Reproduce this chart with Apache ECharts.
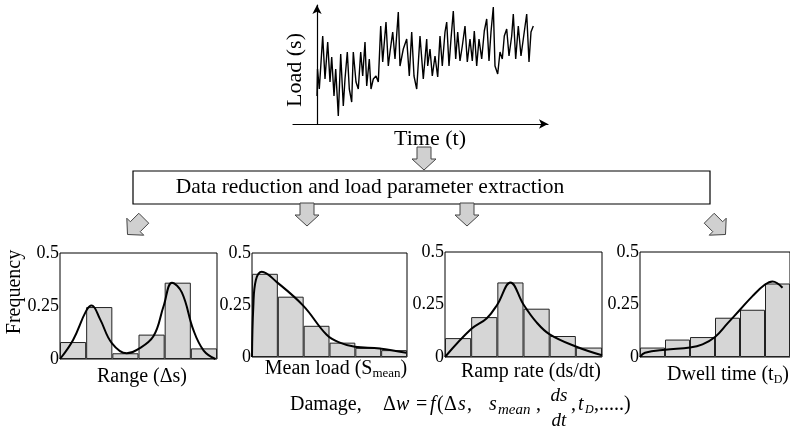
<!DOCTYPE html>
<html>
<head>
<meta charset="utf-8">
<script src="https://cdn.jsdelivr.net/npm/echarts@6/dist/echarts.min.js"></script>
<style>
html,body{margin:0;padding:0;background:#fff;}
#chart{width:790px;height:444px;}
</style>
</head>
<body>
<div id="chart"></div>
<script>
// ---- Load history (time vs load) ----
const loadTime = [0,0.5,2.3,5.7,8,10.7,13,14.7,17,18.7,21.3,23.7,26.3,28,30.3,32.3,34.7,36.3,39,41.3,43.7,45.7,48,49.7,52.3,54,56.3,59,61.3,63.7,65.7,69,71.3,73,75.7,78,81.3,83,86.3,89.7,92.3,94.7,97,99.7,103,106.3,109.7,110.7,113,115.3,118,120.7,123,125.3,128,129.7,132,134,136.3,138.7,140.7,143,145.3,148,150.3,153,155.3,157.3,159.7,162,164.7,167.3,169.7,172,174,176.3,178,180.7,183,185.3,187.3,189.7,192,194.7,196.3,198.7,201.3,204,206.3,209.7,212,214,216.3];
const loadValue = [28,55,35,88,45,82,42,67,28,55,8,70,18,45,72,35,22,72,42,35,72,48,82,38,65,35,45,48,42,98,62,102,58,72,92,65,112,58,75,85,48,92,48,35,88,45,85,58,75,48,68,47,88,58,92,102,58,85,113,65,92,63,78,98,62,85,63,93,58,85,65,93,105,63,92,117,58,50,72,65,88,95,68,88,110,65,98,68,85,110,62,92,98];

// ---- Histograms (6 bins each) ----
const binNames = ['1','2','3','4','5','6'];
const rangeBars = [0.08,0.245,0.027,0.115,0.36,0.05];
const meanBars  = [0.40,0.29,0.15,0.069,0.044,0.033];
const rampBars  = [0.09,0.19,0.355,0.23,0.10,0.045];
const dwellBars = [0.045,0.083,0.095,0.187,0.225,0.35];

// ---- Fitted density curves (bin-position x, frequency y) ----
const rangeCurveX = [0,0.5,1.0,1.21,1.53,1.98,2.55,2.94,3.57,3.96,4.28,4.66,5.1,5.49,5.94];
const rangeCurveY = [0,0.09,0.227,0.252,0.188,0.075,0.027,0.043,0.107,0.25,0.36,0.313,0.136,0.04,0];
const meanCurveX = [0,0.05,0.15,0.38,0.96,1.99,2.89,3.4,3.98,4.94,5.97];
const meanCurveY = [0,0.24,0.37,0.41,0.36,0.246,0.107,0.069,0.049,0.041,0.02];
const rampCurveX = [0,1,1.6,2,2.5,3,3.5,4,5,6];
const rampCurveY = [0,0.133,0.185,0.25,0.355,0.25,0.165,0.108,0.05,0.008];
const dwellCurveX = [0,0.2,1,2,2.5,3,3.5,4,4.5,5,5.3,5.7];
const dwellCurveY = [0,0.02,0.035,0.045,0.06,0.095,0.16,0.225,0.29,0.345,0.36,0.33];

const yTicks = [0, 0.25, 0.5];

const zip = (a,b) => a.map((v,i)=>[v,b[i]]);
const SERIF = '"Liberation Serif","DejaVu Serif",serif';

const chart = echarts.init(document.getElementById('chart'));

const subGrids = [
  {left:60,  right:573, top:253, bottom:85},
  {left:252, right:383, top:253, bottom:87},
  {left:445, right:188, top:252, bottom:87},
  {left:640, right:-6,  top:252, bottom:87}
];
const barsSet = [rangeBars, meanBars, rampBars, dwellBars];
const curves = [zip(rangeCurveX,rangeCurveY), zip(meanCurveX,meanCurveY), zip(rampCurveX,rampCurveY), zip(dwellCurveX,dwellCurveY)];

const grid = [{left:293, right:242, top:5, bottom:320}];
const xAxis = [{
  type:'value', gridIndex:0, min:-24, max:231,
  axisLine:{show:true, onZero:true, symbol:['none','arrow'], symbolSize:[7,9], lineStyle:{color:'#000', width:1.2}},
  axisTick:{show:false}, axisLabel:{show:false}, splitLine:{show:false}
}];
const yAxis = [{
  type:'value', gridIndex:0, min:0, max:119,
  axisLine:{show:true, onZero:true, symbol:['none','arrow'], symbolSize:[7,9], lineStyle:{color:'#000', width:1.2}},
  axisTick:{show:false}, axisLabel:{show:false}, splitLine:{show:false}
}];
const series = [{
  type:'line', xAxisIndex:0, yAxisIndex:0, data: zip(loadTime, loadValue),
  showSymbol:false, lineStyle:{color:'#000', width:1.4}, animation:false
}];

subGrids.forEach((g,i)=>{
  const gi = i+1;
  grid.push(Object.assign({show:true, borderColor:'#000', borderWidth:1, backgroundColor:'#fff'}, g));
  xAxis.push({type:'category', gridIndex:gi, data:binNames, boundaryGap:true,
    axisLine:{show:false}, axisTick:{show:false}, axisLabel:{show:false}, splitLine:{show:false}});
  xAxis.push({type:'value', gridIndex:gi, min:0, max:6, show:false});
  yAxis.push({type:'value', gridIndex:gi, min:0, max:0.5, interval:0.25,
    axisLine:{show:false}, axisTick:{show:false}, splitLine:{show:false},
    axisLabel:{show:true, margin:1, color:'#000', fontFamily:SERIF, fontSize:18,
      formatter: v => (yTicks.indexOf(v) >= 0 ? String(v) : '')}});
  series.push({type:'bar', xAxisIndex: 2*i+1, yAxisIndex: gi, data: barsSet[i],
    barCategoryGap:'0%', itemStyle:{color:'#d6d6d6', borderColor:'#222', borderWidth:1}, animation:false});
  series.push({type:'line', xAxisIndex: 2*i+2, yAxisIndex: gi, data: curves[i], smooth:0.4,
    showSymbol:false, lineStyle:{color:'#000', width:2}, animation:false, z:5});
});

function blockArrow(cx, cy, deg, s){
  s = s || 1;
  const pts = [[-7,-11],[7,-11],[7,1],[12,1],[0,12],[-12,1],[-7,1]];
  const t = deg*Math.PI/180, c=Math.cos(t), sn=Math.sin(t);
  return {type:'polygon', silent:true, z:10,
    shape:{points: pts.map(p=>[cx + s*(p[0]*c - p[1]*sn), cy + s*(p[0]*sn + p[1]*c)])},
    style:{fill:'#d0d0d0', stroke:'#444', lineWidth:1}};
}
function txt(x, y, text, opts, extra){
  return Object.assign({type:'text', x:x, y:y, z:20, style:Object.assign({text:text, font:'17px '+SERIF, fill:'#000', textAlign:'center', textVerticalAlign:'middle'}, opts||{})}, extra||{});
}
const F = (sz, it) => (it ? 'italic ' : '') + sz + 'px ' + SERIF;
const L = (x, y, text, font) => txt(x, y, text, {font:font, textAlign:'left'});

const graphic = [
  txt(295, 70, 'Load (s)', {font:F(22)}, {rotation:Math.PI/2}),
  txt(430, 139, 'Time (t)', {font:F(22)}),
  {type:'rect', shape:{x:133, y:171, width:577, height:33}, style:{fill:'#fff', stroke:'#000', lineWidth:1.2}, z:1},
  txt(370, 187, 'Data reduction and load parameter extraction', {font:F(21.5)}),
  blockArrow(424, 158, 0),
  blockArrow(307, 214, 0),
  blockArrow(467, 214, 0),
  blockArrow(136, 226, 45),
  blockArrow(717, 226, -45),
  txt(15, 292, 'Frequency', {font:F(20)}, {rotation:Math.PI/2}),
  txt(142, 377, 'Range (Δs)', {font:F(20)}),
  {type:'text', x:336, y:369, z:20, style:{text:'{n|Mean load (S}{s|mean}{n|)}', textAlign:'center', textVerticalAlign:'middle',
     rich:{n:{font:F(20), fill:'#000'}, s:{font:F(13), fill:'#000', padding:[9,0,0,0]}}}},
  txt(531, 372, 'Ramp rate (ds/dt)', {font:F(20)}),
  {type:'text', x:728, y:375, z:20, style:{text:'{n|Dwell time (t}{s|D}{n|)}', textAlign:'center', textVerticalAlign:'middle',
     rich:{n:{font:F(20), fill:'#000'}, s:{font:F(12), fill:'#000', padding:[9,0,0,0]}}}},
  // formula
  L(290, 405, 'Damage,', F(20)),
  L(383, 405, 'Δ', F(20)),
  L(396, 405, 'w', F(20, true)),
  L(416, 405, '=', F(20)),
  L(430, 405, 'f', F(20, true)),
  L(437, 405, '(', F(20)),
  L(444, 405, 'Δ', F(20)),
  L(458, 405, 's', F(20, true)),
  L(467, 405, ',', F(20)),
  L(489, 405, 's', F(20, true)),
  L(498, 410, 'mean', F(15, true)),
  L(536, 405, ',', F(20)),
  txt(559, 396, 'ds', {font:F(19, true)}),
  txt(559, 421, 'dt', {font:F(19, true)}),
  L(571, 405, ',', F(20)),
  L(578, 405, 't', F(20, true)),
  L(585, 410, 'D', F(12, true)),
  L(594, 405, ',.....)', F(20))
];

chart.setOption({
  backgroundColor:'#fff',
  animation:false,
  grid: grid, xAxis: xAxis, yAxis: yAxis, series: series, graphic: graphic
});
</script>
</body>
</html>
